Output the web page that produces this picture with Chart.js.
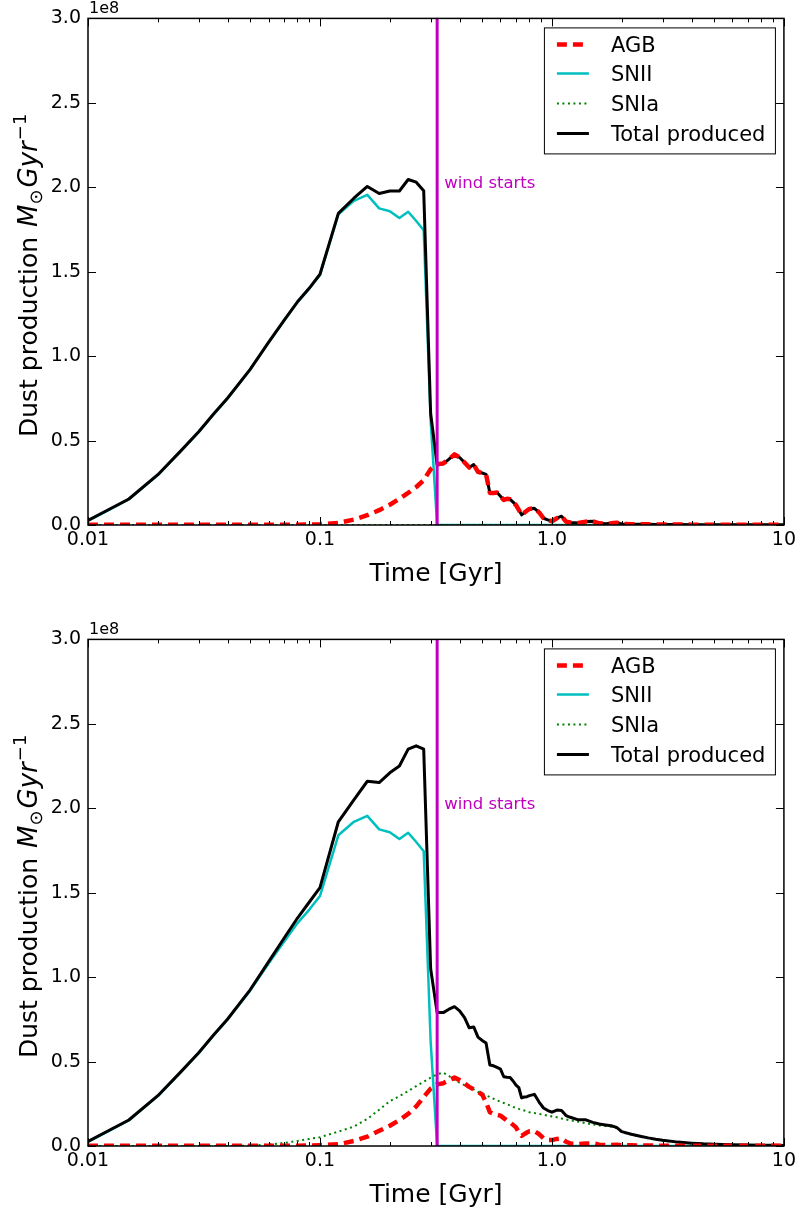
<!DOCTYPE html>
<html><head><meta charset="utf-8">
<script src="https://cdn.jsdelivr.net/npm/chart.js@4.4.1/dist/chart.umd.min.js"></script>
<style>
html,body{margin:0;padding:0;background:#fff;}
#wrap{position:relative;width:800px;height:1211px;background:#fff;}
canvas{position:absolute;left:0;}
#c1{top:0}
#c2{top:621px}
</style></head><body>
<div id="wrap"><canvas id="c1" width="800" height="590"></canvas><canvas id="c2" width="800" height="590"></canvas></div>
<script>
const FONT = "'DejaVu Sans', sans-serif";
const SCALE = 1e8;

// time grid [Gyr]
const T = [
 0.01,0.015,0.02,0.025,0.03,0.035,0.04,0.05,0.06,0.07,0.08,0.09,
 0.10,0.12,0.14,0.16,0.18,0.20,0.22,0.24,0.26,0.28,0.30,
 0.32,0.34,0.36,0.38,0.40,0.42,0.44,0.46,0.48,0.50,0.52,0.54,0.56,0.58,0.60,0.62,0.64,0.66,0.68,0.70,0.72,0.74,0.76,0.78,0.80,
 0.84,0.88,0.92,0.96,1.00,1.05,1.10,1.15,1.20,
 1.3,1.4,1.5,1.6,1.7,1.8,1.9,2.0,
 2.2,2.4,2.6,2.8,3.0,3.5,4,4.5,5,6,7,8,9,10];

// values in units of 1e8 Msun/Gyr
const SNII = [
 0.025,0.152,0.296,0.434,0.55,0.66,0.75,0.92,1.08,1.21,1.32,1.40,
 1.48,1.84,1.92,1.955,1.875,1.858,1.818,1.855,1.80,1.745,0.62,
 0,0,0,0,0,0,0,0,0,0,0,0,0,0,0,0,0,0,0,0,0,0,0,0,0,
 0,0,0,0,0,0,0,0,0,
 0,0,0,0,0,0,0,0,
 0,0,0,0,0,0,0,0,0,0,0,0,0,0];

const AGB_TOP = [
 0.002,0.002,0.002,0.002,0.002,0.002,0.002,0.002,0.002,0.002,0.002,0.003,
 0.005,0.012,0.032,0.058,0.088,0.12,0.155,0.19,0.225,0.265,0.33,
 0.36,0.365,0.39,0.418,0.40,0.37,0.34,0.358,0.315,0.308,0.30,0.19,0.19,0.192,0.17,0.148,0.155,0.152,0.135,0.118,0.09,0.06,0.072,0.085,0.095,
 0.099,0.075,0.04,0.03,0.022,0.04,0.052,0.02,0.015,
 0.012,0.02,0.022,0.01,0.008,0.01,0.014,0.006,
 0.005,0.004,0.004,0.003,0.003,0.003,0.002,0.002,0.002,0.002,0.001,0.001,0.001,0.001];

const SNIA_TOP = [
 0,0,0,0,0,0,0,0,0,0,0,0,
 0,0,0,0,0,0,0,0,0,0,0,
 0,0,0,0,0,0,0,0,0,0,0,0,0,0,0,0,0,0,0,0,0,0,0,0,0,
 0,0,0,0,0,0,0,0,0,
 0,0,0,0,0,0,0,0,
 0,0,0,0,0,0,0,0,0,0,0,0,0,0];

const TOTAL_TOP = [
 0.027,0.154,0.298,0.436,0.552,0.662,0.752,0.922,1.082,1.212,1.322,1.403,
 1.485,1.845,1.935,2.005,1.963,1.978,1.978,2.046,2.03,1.98,0.66,
 0.355,0.362,0.39,0.418,0.40,0.37,0.34,0.358,0.315,0.308,0.30,0.19,0.19,0.192,0.17,0.148,0.155,0.152,0.135,0.118,0.09,0.06,0.072,0.085,0.095,
 0.099,0.075,0.04,0.03,0.022,0.04,0.052,0.02,0.015,
 0.012,0.02,0.022,0.01,0.008,0.01,0.014,0.006,
 0.005,0.004,0.004,0.003,0.003,0.003,0.002,0.002,0.002,0.002,0.001,0.001,0.001,0.001];

const AGB_BOT = [
 0.002,0.002,0.002,0.002,0.002,0.002,0.002,0.002,0.002,0.002,0.002,0.003,
 0.005,0.01,0.03,0.055,0.09,0.12,0.154,0.19,0.235,0.29,0.34,
 0.365,0.372,0.39,0.405,0.39,0.37,0.35,0.335,0.32,0.305,0.26,0.2,0.19,0.185,0.18,0.165,0.15,0.14,0.125,0.11,0.08,0.06,0.07,0.08,0.088,
 0.088,0.07,0.045,0.035,0.035,0.042,0.045,0.025,0.015,
 0.012,0.015,0.016,0.008,0.006,0.006,0.008,0.004,
 0.004,0.003,0.003,0.002,0.002,0.002,0.002,0.002,0.001,0.001,0.001,0.001,0.001,0.001];

const SNIA_BOT = [
 0,0,0,0,0,0,0,0.003,0.008,0.018,0.03,0.042,
 0.052,0.085,0.115,0.16,0.215,0.265,0.295,0.325,0.355,0.38,0.405,
 0.425,0.435,0.415,0.39,0.375,0.36,0.35,0.335,0.32,0.31,0.30,0.29,0.28,0.27,0.262,0.255,0.248,0.24,0.232,0.226,0.22,0.215,0.21,0.205,0.20,
 0.195,0.19,0.185,0.18,0.175,0.17,0.163,0.157,0.152,
 0.144,0.135,0.128,0.122,0.118,0.114,0.105,0.08,
 0.068,0.055,0.045,0.038,0.032,0.022,0.016,0.012,0.01,0.007,0.005,0.004,0.003,0.003];

const TOTAL_BOT = [
 0.027,0.154,0.298,0.436,0.552,0.662,0.752,0.925,1.09,1.23,1.35,1.445,
 1.53,1.92,2.05,2.16,2.152,2.21,2.25,2.35,2.37,2.35,1.05,
 0.79,0.79,0.81,0.825,0.80,0.76,0.70,0.705,0.645,0.625,0.61,0.48,0.475,0.465,0.455,0.41,0.407,0.405,0.385,0.36,0.345,0.285,0.29,0.292,0.298,
 0.306,0.26,0.225,0.21,0.20,0.213,0.21,0.18,0.17,
 0.155,0.155,0.14,0.13,0.125,0.12,0.11,0.085,
 0.07,0.058,0.048,0.04,0.034,0.023,0.017,0.013,0.011,0.008,0.006,0.005,0.004,0.003];

const X_TICKS = [0.01, 0.1, 1, 10];
const X_TICK_LABELS = ['0.01', '0.1', '1.0', '10'];
const Y_TICKS = [0, 0.5, 1.0, 1.5, 2.0, 2.5, 3.0];
const WIND_TIME = 0.32;
const SERIES_NAMES = ['AGB', 'SNII', 'SNIa', 'Total produced'];
const X_TITLE = 'Time [Gyr]';
const WIND_LABEL = 'wind starts';
const OFFSET_LABEL = '1e8';

const STYLE = {
  AGB:   {color:'#ff0000', width:4.5, dash:[10,6]},
  SNII:  {color:'#00bfbf', width:2.5, dash:[]},
  SNIa:  {color:'#008000', width:2,   dash:[2,3.5]},
  Total: {color:'#000000', width:3,   dash:[]},
  Wind:  {color:'#bf00bf', width:3,   dash:[]}
};
const STYLE_LIST = [STYLE.AGB, STYLE.SNII, STYLE.SNIa, STYLE.Total];

const pts = arr => T.map((t, i) => ({x: t, y: arr[i] * SCALE}));

function ds(label, arr, st, order) {
  return {label, data: pts(arr), borderColor: st.color, borderWidth: st.width,
          borderDash: st.dash, pointRadius: 0, tension: 0, fill: false,
          borderJoinStyle: 'round', borderCapStyle: 'butt', order};
}

function drawYTitle(ctx, cx, startY) {
  const segs = [
    {t:'Dust production ', f:"25px " + FONT, dy:0, gap:2},
    {t:'M', f:"oblique 26px " + FONT, dy:0, gap:0},
    {t:'\u2299', f:"18px " + FONT, dy:5, gap:2},
    {t:'Gyr', f:"oblique 26px " + FONT, dy:0, gap:1},
    {t:'\u22121', f:"18px " + FONT, dy:-11, gap:0}
  ];
  ctx.save();
  ctx.translate(cx, startY);
  ctx.rotate(-Math.PI / 2);
  ctx.fillStyle = '#000';
  ctx.textBaseline = 'alphabetic';
  ctx.textAlign = 'left';
  let xx = 0;
  for (const s of segs) {
    ctx.font = s.f;
    ctx.fillText(s.t, xx, 9 + s.dy);
    xx += ctx.measureText(s.t).width + s.gap;
  }
  ctx.restore();
}

const decor = {
  id: 'decor',
  afterDatasetsDraw(chart) {
    const {ctx, chartArea: a, scales: {x, y}} = chart;
    ctx.save();
    ctx.setLineDash([]);
    ctx.strokeStyle = '#000';
    ctx.lineWidth = 1.5;
    ctx.strokeRect(a.left, a.top, a.right - a.left, a.bottom - a.top);
    ctx.lineWidth = 1;
    ctx.beginPath();
    for (const v of X_TICKS) {
      const px = Math.round(x.getPixelForValue(v)) + 0.5;
      ctx.moveTo(px, a.bottom); ctx.lineTo(px, a.bottom - 8);
      ctx.moveTo(px, a.top); ctx.lineTo(px, a.top + 8);
    }
    for (let e = -2; e < 1; e++) {
      for (let m = 2; m <= 9; m++) {
        const px = Math.round(x.getPixelForValue(m * Math.pow(10, e))) + 0.5;
        ctx.moveTo(px, a.bottom); ctx.lineTo(px, a.bottom - 4);
        ctx.moveTo(px, a.top); ctx.lineTo(px, a.top + 4);
      }
    }
    for (const v of Y_TICKS) {
      const py = Math.round(y.getPixelForValue(v * SCALE)) + 0.5;
      ctx.moveTo(a.left, py); ctx.lineTo(a.left + 8, py);
      ctx.moveTo(a.right, py); ctx.lineTo(a.right - 8, py);
    }
    ctx.stroke();

    // legend
    const lw = 231, lh = 126;
    const lx = a.right - 9 - lw, ly = a.top + 9;
    ctx.fillStyle = '#fff';
    ctx.fillRect(lx, ly, lw, lh);
    ctx.strokeStyle = '#000';
    ctx.lineWidth = 1;
    ctx.strokeRect(lx + 0.5, ly + 0.5, lw, lh);
    const rows = [17, 46, 76, 106];
    ctx.font = "21px " + FONT;
    ctx.textBaseline = 'alphabetic';
    ctx.textAlign = 'left';
    SERIES_NAMES.forEach((name, i) => {
      const st = STYLE_LIST[i];
      ctx.beginPath();
      ctx.strokeStyle = st.color;
      ctx.lineWidth = st.width;
      ctx.setLineDash(st.dash);
      ctx.moveTo(lx + 13, ly + rows[i]);
      ctx.lineTo(lx + 45, ly + rows[i]);
      ctx.stroke();
      ctx.setLineDash([]);
      ctx.fillStyle = '#000';
      ctx.fillText(name, lx + 67, ly + rows[i] + 7.5);
    });

    // wind label
    const wx = x.getPixelForValue(WIND_TIME);
    ctx.fillStyle = STYLE.Wind.color;
    ctx.font = "16.5px " + FONT;
    ctx.fillText(WIND_LABEL, wx + 7, a.top + 170);

    // offset label
    ctx.fillStyle = '#000';
    ctx.font = "16px " + FONT;
    ctx.fillText(OFFSET_LABEL, a.left + 1, a.top - 5);

    // x title
    ctx.font = "25px " + FONT;
    ctx.textAlign = 'center';
    ctx.fillText(X_TITLE, (a.left + a.right) / 2, a.bottom + 56);

    // y title
    drawYTitle(ctx, 28, a.bottom - 88);
    ctx.restore();
  }
};

function makeChart(id, agb, snii, snia, total) {
  return new Chart(document.getElementById(id), {
    type: 'line',
    data: {
      datasets: [
        {label:'wind', data:[{x:WIND_TIME, y:0}, {x:WIND_TIME, y:3 * SCALE}],
         borderColor: STYLE.Wind.color, borderWidth: STYLE.Wind.width, pointRadius: 0, order: 0},
        ds(SERIES_NAMES[0], agb, STYLE.AGB, 1),
        ds(SERIES_NAMES[3], total, STYLE.Total, 2),
        ds(SERIES_NAMES[2], snia, STYLE.SNIa, 3),
        ds(SERIES_NAMES[1], snii, STYLE.SNII, 4)
      ]
    },
    options: {
      responsive: false,
      devicePixelRatio: 1,
      animation: false,
      events: [],
      parsing: true,
      layout: {padding: {top: 18, right: 14, left: 0, bottom: 0}},
      plugins: {legend: {display: false}, tooltip: {enabled: false}, title: {display: false}},
      scales: {
        x: {
          type: 'logarithmic', min: 0.01, max: 10,
          grid: {display: false, drawTicks: false}, border: {display: false},
          afterBuildTicks: s => { s.ticks = X_TICKS.map(v => ({value: v, major: true})); },
          afterFit: s => { s.height = 65; },
          ticks: {color: '#000', font: {family: FONT, size: 19}, padding: 4,
                  autoSkip: false, maxRotation: 0, minRotation: 0,
                  callback: v => X_TICK_LABELS[X_TICKS.indexOf(v)]}
        },
        y: {
          type: 'linear', min: 0, max: 3 * SCALE,
          grid: {display: false, drawTicks: false}, border: {display: false},
          afterBuildTicks: s => { s.ticks = Y_TICKS.map(v => ({value: v * SCALE})); },
          afterFit: s => { s.width = 88; },
          ticks: {color: '#000', font: {family: FONT, size: 19}, padding: 7,
                  callback: v => (v / SCALE).toFixed(1)}
        }
      }
    },
    plugins: [decor]
  });
}

makeChart('c1', AGB_TOP, SNII, SNIA_TOP, TOTAL_TOP);
makeChart('c2', AGB_BOT, SNII, SNIA_BOT, TOTAL_BOT);
</script></body></html>
